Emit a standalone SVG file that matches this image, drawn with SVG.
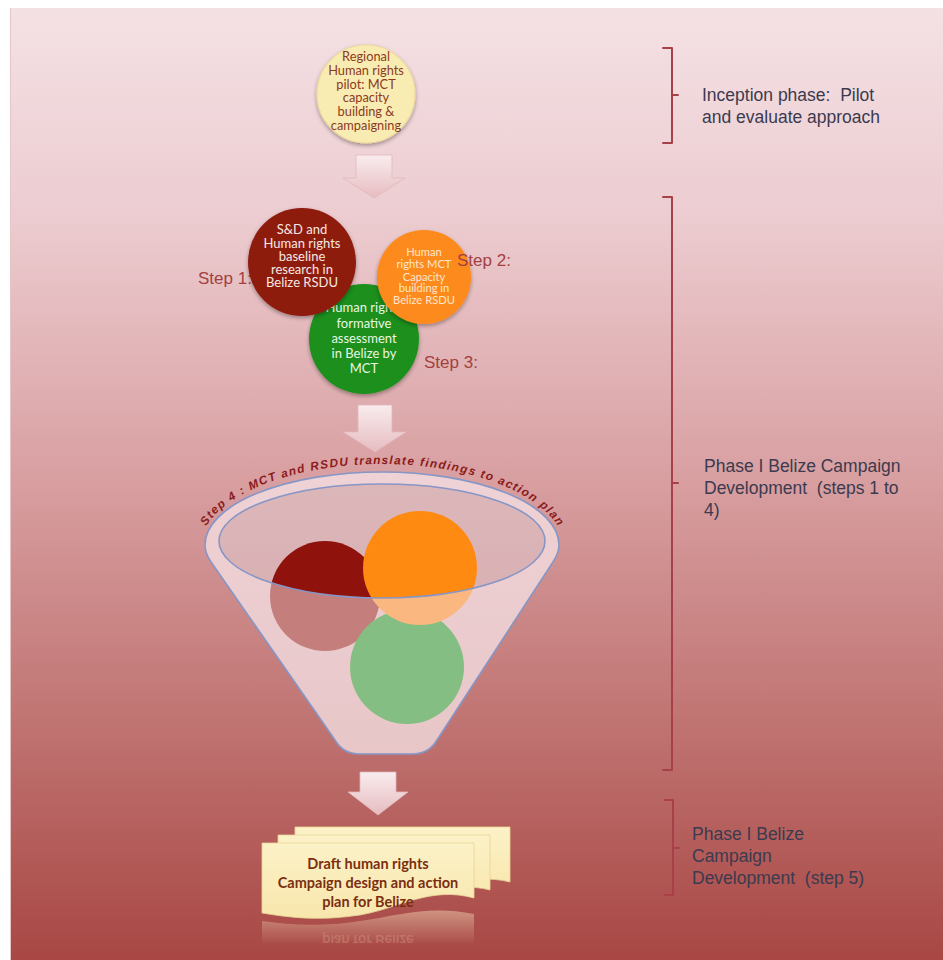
<svg xmlns="http://www.w3.org/2000/svg" width="943" height="960" viewBox="0 0 943 960">
<defs>
<linearGradient id="bg" x1="0" y1="0" x2="0" y2="1">
<stop offset="0" stop-color="#f4e1e4"/>
<stop offset="0.22" stop-color="#ecccd0"/>
<stop offset="0.5" stop-color="#d89ea0"/>
<stop offset="0.75" stop-color="#c07472"/>
<stop offset="1" stop-color="#a84744"/>
</linearGradient>
<linearGradient id="arrowG" x1="0" y1="0" x2="0" y2="1">
<stop offset="0" stop-color="#f9ecee"/>
<stop offset="1" stop-color="#e6bcc0"/>
</linearGradient>
<linearGradient id="docG" x1="0" y1="0" x2="0" y2="1">
<stop offset="0" stop-color="#fcf2c8"/>
<stop offset="1" stop-color="#f8e6ac"/>
</linearGradient>
<linearGradient id="reflG" x1="0" y1="0" x2="0" y2="1">
<stop offset="0" stop-color="#f8e6c0" stop-opacity="0.45"/>
<stop offset="1" stop-color="#f8e6c0" stop-opacity="0"/>
</linearGradient>
<filter id="sh" x="-20%" y="-20%" width="140%" height="140%">
<feGaussianBlur in="SourceAlpha" stdDeviation="2"/>
<feOffset dx="0" dy="2" result="b"/>
<feComponentTransfer><feFuncA type="linear" slope="0.35"/></feComponentTransfer>
<feMerge><feMergeNode/><feMergeNode in="SourceGraphic"/></feMerge>
</filter>
<clipPath id="reflClip"><rect x="250" y="921" width="240" height="22"/></clipPath>
<path id="arcPath" d="M199,550 A183,86 0 0 1 565,550"/>
<style>
.os{font-family:Lato,"Open Sans",sans-serif;text-anchor:middle}
.lab{font-family:"Liberation Sans",Arial,sans-serif;font-size:17.5px;fill:#3c3a4e;white-space:pre}
.step{font-family:"Liberation Sans",Arial,sans-serif;font-size:17px;fill:#a3403f}
.brk{fill:none;stroke:#a8404a;stroke-width:2;stroke-linejoin:round;stroke-linecap:round}
.arrow{fill:url(#arrowG);stroke:#e2b6ba;stroke-width:0.8}
.fstroke{fill:none;stroke:#8696c6;stroke-width:1.6}
.doc{fill:url(#docG);stroke:#e8d394;stroke-width:0.8}
</style>
</defs>

<rect x="0" y="0" width="943" height="960" fill="#ffffff"/>
<rect x="10" y="8" width="933" height="952" fill="url(#bg)"/>
<line x1="10.5" y1="8" x2="10.5" y2="960" stroke="#e4c6c8" stroke-width="1"/>

<!-- connectors: block arrows -->
<g id="connectors">
<path class="arrow" d="M356,155 H392 V178 H405 L374,198 L343,178 H356 Z"/>
<path class="arrow" d="M358,405 H392 V432 H406 L375,452 L343,432 H358 Z"/>
<path class="arrow" d="M360,772 H396 V792 H408 L378,815 L348,792 H360 Z"/>
</g>

<!-- inception node -->
<g id="node-regional-pilot">
<circle cx="366" cy="94" r="49" fill="#f9ecb2" stroke="#efd99a" stroke-width="1.2" filter="url(#sh)"/>
<g class="os" font-size="12.8" fill="#8b3a1e">
<text x="366" y="61">Regional</text>
<text x="366" y="75">Human rights</text>
<text x="366" y="89">pilot: MCT</text>
<text x="366" y="102">capacity</text>
<text x="366" y="116">building &amp;</text>
<text x="366" y="130">campaigning</text>
</g>
</g>

<!-- step labels -->
<g id="step-labels">
<text class="step" x="198" y="284">Step 1:</text>
<text class="step" x="424" y="368">Step 3:</text>
</g>

<!-- step 3 green -->
<g id="node-step3">
<circle cx="364" cy="339" r="55" fill="#1f8f1f" filter="url(#sh)"/>
<g class="os" font-size="13" fill="#eaf6e4">
<text x="364" y="312">Human rights</text>
<text x="364" y="328">formative</text>
<text x="364" y="343">assessment</text>
<text x="364" y="358">in Belize by</text>
<text x="364" y="373">MCT</text>
</g>
</g>

<!-- step 1 red -->
<g id="node-step1">
<circle cx="302" cy="262" r="54" fill="#8e1a0e" filter="url(#sh)"/>
<g class="os" font-size="13" fill="#f6e8e2">
<text x="302" y="234">S&amp;D and</text>
<text x="302" y="248">Human rights</text>
<text x="302" y="261">baseline</text>
<text x="302" y="274">research in</text>
<text x="302" y="287">Belize RSDU</text>
</g>
</g>

<!-- step 2 orange -->
<g id="node-step2">
<circle cx="424" cy="277" r="47" fill="#fd8a1a" filter="url(#sh)"/>
<g class="os" font-size="11.2" fill="#fde6cc">
<text x="424" y="256">Human</text>
<text x="424" y="268">rights MCT</text>
<text x="424" y="281">Capacity</text>
<text x="424" y="292">building in</text>
<text x="424" y="304">Belize RSDU</text>
</g>
<text class="step" x="457" y="266">Step 2:</text>
</g>

<!-- step 4 funnel -->
<g id="node-step4-funnel">
<path d="M205,545 A177,73 0 0 1 559,545 C559,551 557,556 553,562 L437,740 Q429,754 412,754 L360,754 Q343,754 335,740 L211,562 C207,556 205,551 205,545 Z" fill="#f6e6e8" fill-opacity="0.5"/>
<ellipse cx="382" cy="541" rx="163" ry="57" fill="#cfa9ae" fill-opacity="0.45"/>
<circle cx="325" cy="596" r="55" fill="#8f130c"/>
<circle cx="407" cy="667" r="57" fill="#0a9a1a"/>
<circle cx="420" cy="568" r="57" fill="#ff8a12"/>
<path fill-rule="evenodd" d="M205,545 A177,73 0 0 1 559,545 C559,551 557,556 553,562 L437,740 Q429,754 412,754 L360,754 Q343,754 335,740 L211,562 C207,556 205,551 205,545 Z M219,541 A163,57 0 1 0 545,541 A163,57 0 1 0 219,541 Z" fill="#f5e1e4" fill-opacity="0.52"/>
<path class="fstroke" d="M205,545 A177,73 0 0 1 559,545 C559,551 557,556 553,562 L437,740 Q429,754 412,754 L360,754 Q343,754 335,740 L211,562 C207,556 205,551 205,545 Z"/>
<ellipse class="fstroke" cx="382" cy="541" rx="163" ry="57"/>
<text font-family="'Liberation Sans',Arial,sans-serif" font-size="11.8" font-style="italic" font-weight="bold" fill="#8b1a1a" text-anchor="middle"><textPath href="#arcPath" startOffset="50%" textLength="386" lengthAdjust="spacing">Step 4 : MCT and RSDU translate findings to action plan</textPath></text>
</g>

<!-- step 5 document -->
<g id="node-step5-doc">
<path class="doc" d="M295,827 H510 V882 C470,872 440,890 400,896 L295,896 Z"/>
<path class="doc" d="M278,835 H490 V890 C450,880 420,898 380,904 L278,904 Z"/>
<path class="doc" d="M262,843 H474 V898 C430,886 400,908 360,915 C320,921 292,918 262,913 Z"/>
<path d="M262,921 C292,925 320,927 360,921 C400,915 430,905 474,914 V945 H262 Z" fill="url(#reflG)"/>
<g font-family="Lato,'Open Sans',sans-serif" font-weight="bold" font-size="14.5" fill="#7b2e10" text-anchor="middle">
<text x="368" y="869">Draft human rights</text>
<text x="368" y="888">Campaign design and action</text>
<text x="368" y="907">plan for Belize</text>
</g>
<g clip-path="url(#reflClip)">
<text x="368" y="-935" transform="scale(1,-1)" font-family="Lato,'Open Sans',sans-serif" font-weight="bold" font-size="14.5" fill="#c88a78" fill-opacity="0.55" text-anchor="middle">plan for Belize</text>
</g>
</g>

<!-- phase brackets and labels -->
<g id="phase-inception">
<path class="brk" d="M663,48 H672 V143 H663 M672,95 H678"/>
<text class="lab" x="702" y="101" xml:space="preserve">Inception phase:  Pilot</text>
<text class="lab" x="702" y="123">and evaluate approach</text>
</g>
<g id="phase-1-steps1-4">
<path class="brk" d="M663,197 H672 V770 H663 M672,483 H678"/>
<text class="lab" x="704" y="472">Phase I Belize Campaign</text>
<text class="lab" x="704" y="494" xml:space="preserve">Development  (steps 1 to</text>
<text class="lab" x="704" y="516">4)</text>
</g>
<g id="phase-1-step5">
<path class="brk" d="M665,800 H673 V895 H665 M673,848 H679" stroke="#9c3c44"/>
<text class="lab" x="692" y="840">Phase I Belize</text>
<text class="lab" x="692" y="862">Campaign</text>
<text class="lab" x="692" y="884" xml:space="preserve">Development  (step 5)</text>
</g>
</svg>
